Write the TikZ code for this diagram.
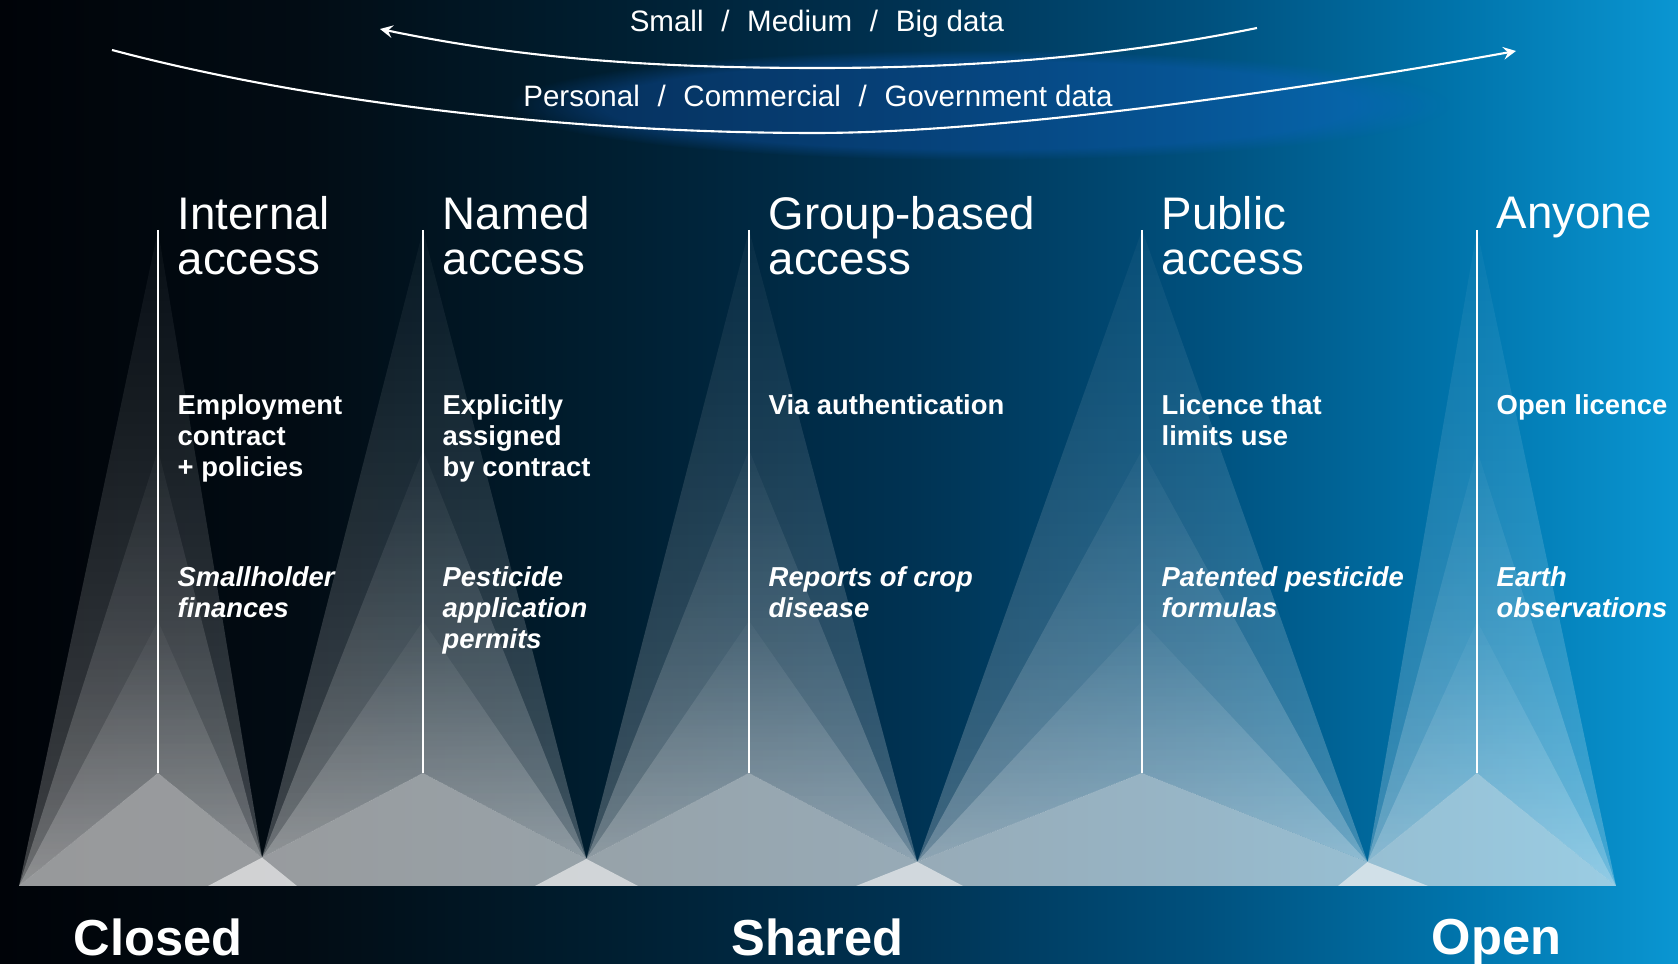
\documentclass[tikz,border=0pt]{standalone}
\usepackage{fontspec}
\setmainfont{Liberation Sans}
\usetikzlibrary{arrows, fadings}

\definecolor{bg0}{RGB}{0,3,8}
\definecolor{bg1}{RGB}{2,12,20}
\definecolor{bg2}{RGB}{0,30,48}
\definecolor{bg3}{RGB}{0,50,82}
\definecolor{bg4}{RGB}{0,80,125}
\definecolor{bg5}{RGB}{0,115,170}
\definecolor{bg6}{RGB}{10,150,210}
\definecolor{glowblue}{RGB}{20,100,210}

\pgfdeclarehorizontalshading{backdrop}{100bp}{color(0bp)=(bg0); color(25bp)=(bg0); color(34bp)=(bg1); color(43bp)=(bg2); color(52bp)=(bg3); color(60.75bp)=(bg4); color(68.2bp)=(bg5); color(75bp)=(bg6); color(100bp)=(bg6)}
\tikzfading[name=conefade, top color=transparent!97, bottom color=transparent!76]

\newcommand{\slashsep}{\hspace{0.6em}/\hspace{0.6em}}

\tikzset{
  cone/.style={fill=white, path fading=conefade},
  footing/.style={fill=white!92!gray, fill opacity=0.62},
  pole/.style={draw=white, line width=0.6pt},
  span arc/.style={draw=white, line width=0.6pt, -stealth},
  head/.style={anchor=north west, inner sep=0, text=white, align=left, font=\fontsize{13}{12.8}\selectfont},
  terms/.style={head, font=\bfseries\fontsize{7.8}{8.8}\selectfont},
  example/.style={head, font=\bfseries\itshape\fontsize{7.8}{8.8}\selectfont},
  scale label/.style={anchor=north west, inner sep=0, text=white, font=\bfseries\fontsize{14.4}{15}\selectfont},
  span label/.style={anchor=north, inner sep=0, text=white, font=\fontsize{8.4}{9}\selectfont}
}

\begin{document}
\begin{tikzpicture}[x=0.1mm, y=-0.1mm]
  \useasboundingbox (0,0) rectangle (1678,964);
  \shade[shading=backdrop] (0,0) rectangle (1678,964);
  \fill[glowblue, path fading=circle with fuzzy edge 20 percent, opacity=0.3] (980,105) ellipse (470 and 55);

  % columns: name / x / half base
  \foreach \name/\cx/\hw in {internal/158/139, named/423/215, group/749/214, public/1142/286, anyone/1477/139}{
    \coordinate (\name-top) at (\cx,230);
    \coordinate (\name-bot) at (\cx,773);
    \coordinate (\name-l) at ({\cx-\hw},886);
    \coordinate (\name-r) at ({\cx+\hw},886);
  }
  \coordinate (x12) at (intersection of internal-bot--internal-r and named-bot--named-l);
  \coordinate (x23) at (intersection of named-bot--named-r and group-bot--group-l);
  \coordinate (x34) at (intersection of group-bot--group-r and public-bot--public-l);
  \coordinate (x45) at (intersection of public-bot--public-r and anyone-bot--anyone-l);

  \foreach \name/\cx/\lft/\rgt in {internal/158/internal-l/x12, named/423/x12/x23,
      group/749/x23/x34, public/1142/x34/x45, anyone/1477/x45/anyone-r}{
    \foreach \ay in {230,450,621}
      \fill[cone] (\cx,\ay) -- (\lft) -- (\name-bot) -- (\rgt) -- cycle;
    \fill[footing] (\name-bot) -- (\name-l) -- (\name-r) -- cycle;
    \draw[pole] (\name-top) -- (\name-bot);
  }

  % size and ownership spans
  \coordinate (size-from) at (1257,28);
  \coordinate (size-mid) at (818,68);
  \coordinate (size-to) at (380,29);
  \coordinate (owner-from) at (112,50);
  \coordinate (owner-mid) at (815,133);
  \coordinate (owner-to) at (1516,51);
  \draw[span arc] (size-from) .. controls (1100,60) and (950,68) .. (size-mid)
    .. controls (650,68) and (520,58) .. (size-to);
  \draw[span arc] (owner-from) .. controls (300,100) and (560,133) .. (owner-mid)
    .. controls (1000,133) and (1300,90) .. (owner-to);
  \node[span label] (size) at (817,9) {Small\slashsep Medium\slashsep Big data};
  \node[span label] (owner) at (818,84) {Personal\slashsep Commercial\slashsep Government data};

  \node[head] (internal) at (177,196) {Internal\\access};
  \node[head] (named) at (442,196) {Named\\access};
  \node[head] (group) at (768,196) {Group-based\\access};
  \node[head] (public) at (1161,196) {Public\\access};
  \node[head] (anyone) at (1496,196) {Anyone};

  \node[terms] (internal-terms) at (177,394) {Employment\\contract\\+ policies};
  \node[terms] (named-terms) at (442,394) {Explicitly\\assigned\\by contract};
  \node[terms] (group-terms) at (768,394) {Via authentication};
  \node[terms] (public-terms) at (1161,394) {Licence that\\limits use};
  \node[terms] (anyone-terms) at (1496,394) {Open licence};

  \node[example] (internal-eg) at (177,566) {Smallholder\\finances};
  \node[example] (named-eg) at (442,566) {Pesticide\\application\\permits};
  \node[example] (group-eg) at (768,566) {Reports of crop\\disease};
  \node[example] (public-eg) at (1161,566) {Patented pesticide\\formulas};
  \node[example] (anyone-eg) at (1496,566) {Earth\\observations};

  \node[scale label] (closed) at (73,918) {Closed};
  \node[scale label] (shared) at (731,918) {Shared};
  \node[scale label] (open) at (1431,918) {Open};
\end{tikzpicture}
\end{document}
